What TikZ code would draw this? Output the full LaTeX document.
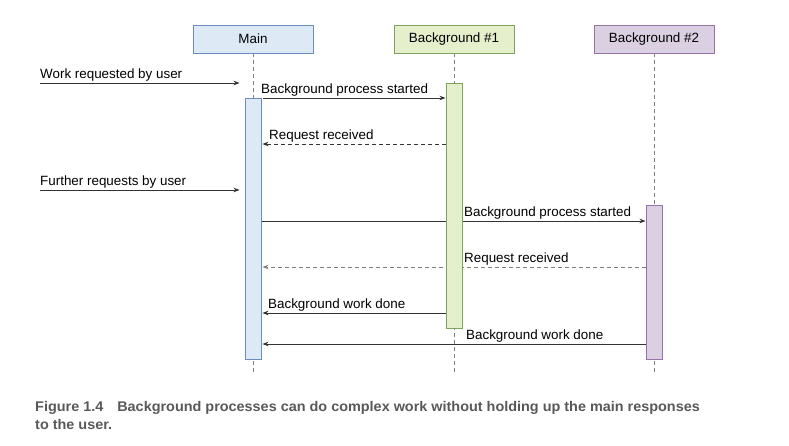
\documentclass[tikz,border=0pt]{standalone}
\usepackage{fontspec}
\setmainfont{Liberation Sans}
\newfontfamily\capfont[FakeStretch=1.03]{Liberation Sans}
\usetikzlibrary{arrows.meta}
\pgfdeclarelayer{back}
\pgfdeclarelayer{lines}
\pgfsetlayers{back,lines,main}
\definecolor{mainfill}{HTML}{DDE9F5}
\definecolor{maindraw}{HTML}{6C8EBF}
\definecolor{bgafill}{HTML}{E6EFCB}
\definecolor{bgadraw}{HTML}{7EA35C}
\definecolor{bgbfill}{HTML}{DAD0E2}
\definecolor{bgbdraw}{HTML}{9673A6}
\definecolor{capgray}{HTML}{595959}
\definecolor{msggray}{HTML}{333333}
\tikzset{
  x=1pt, y=-1pt,
  lbl/.style={font=\fontsize{13.4}{16}\selectfont, text=black, inner sep=0pt, anchor=base west},
  header/.style={draw, line width=0.9pt, minimum width=120pt, minimum height=28pt, inner sep=0pt, font=\fontsize{13.4}{16}\selectfont},
  bar/.style={draw, line width=0.9pt, minimum width=16pt, inner sep=0pt},
  lifeline/.style={draw=gray, dashed, dash pattern=on 4pt off 3pt, line width=0.7pt},
  msg/.style={draw=msggray, line width=0.8pt, -{Stealth[length=6pt,width=4.5pt]}},
  reply/.style={msg, dashed, dash pattern=on 4pt off 3pt},
  caption/.style={anchor=base west, inner sep=0pt, text=capgray, font=\capfont\bfseries\fontsize{14}{16}\selectfont},
}
\begin{document}
\begin{tikzpicture}
\begin{pgfonlayer}{back}
\fill[white] (0,0) rectangle (789,446);
\end{pgfonlayer}
\useasboundingbox (0,0) rectangle (789,446);

% headers
\node[header, fill=mainfill, draw=maindraw] (main) at (253,39) {Main};
\node[header, fill=bgafill, draw=bgadraw] (bga) at (454,39) {Background \#1};
\node[header, fill=bgbfill, draw=bgbdraw] (bgb) at (654,39) {Background \#2};

% activation bars
\node[bar, fill=mainfill, draw=maindraw, minimum height=261pt] (mainbar) at (253,228.5) {};
\node[bar, fill=bgafill, draw=bgadraw, minimum height=245pt] (bgabar) at (454,205.5) {};
\node[bar, fill=bgbfill, draw=bgbdraw, minimum height=154pt] (bgbbar) at (654,282) {};

% lifeline ends
\coordinate (mainend) at (253,375);
\coordinate (bgaend) at (454,375);
\coordinate (bgbend) at (654,375);

% user arrow starts
\coordinate (user1) at (40,83);
\coordinate (user2) at (40,190);

% y levels
\coordinate (y1) at (0,98);
\coordinate (y2) at (0,144);
\coordinate (y3) at (0,221);
\coordinate (y4) at (0,267);
\coordinate (y5) at (0,313);
\coordinate (y6) at (0,344);

\begin{pgfonlayer}{lines}
\draw[lifeline] (main.south) -- (mainend);
\draw[lifeline] (bga.south) -- (bgaend);
\draw[lifeline] (bgb.south) -- (bgbend);

\draw[msg] (user1) -- ([xshift=-5pt]mainbar.west |- user1);
\draw[msg] (user2) -- ([xshift=-5pt]mainbar.west |- user2);

\draw[msg] ([xshift=2pt]mainbar.east |- y1) -- (bgabar.west |- y1);
\draw[reply] (bgabar.west |- y2) -- ([xshift=1pt]mainbar.east |- y2);
\draw[msg] (mainbar.east |- y3) -- (bgbbar.west |- y3);
\draw[reply, draw=gray] (bgbbar.west |- y4) -- ([xshift=1pt]mainbar.east |- y4);
\draw[msg] (bgabar.west |- y5) -- ([xshift=1pt]mainbar.east |- y5);
\draw[msg] (bgbbar.west |- y6) -- ([xshift=1pt]mainbar.east |- y6);
\end{pgfonlayer}

% labels
\node[lbl] (l0) at (40,78.3) {Work requested by user};
\node[lbl] (l1) at (261,93.3) {Background process started};
\node[lbl] (l2) at (269,139.3) {Request received};
\node[lbl] (l3) at (40,185.3) {Further requests by user};
\node[lbl] (l4) at (464,216.3) {Background process started};
\node[lbl] (l5) at (464,262.3) {Request received};
\node[lbl] (l6) at (268,308.3) {Background work done};
\node[lbl] (l7) at (466,339.3) {Background work done};

% caption
\node[caption] (cap1) at (35,411.7) {Figure 1.4\hspace{14pt}Background processes can do complex work without holding up the main responses};
\node[caption] (cap2) at (35,429) {to the user.};
\end{tikzpicture}
\end{document}
